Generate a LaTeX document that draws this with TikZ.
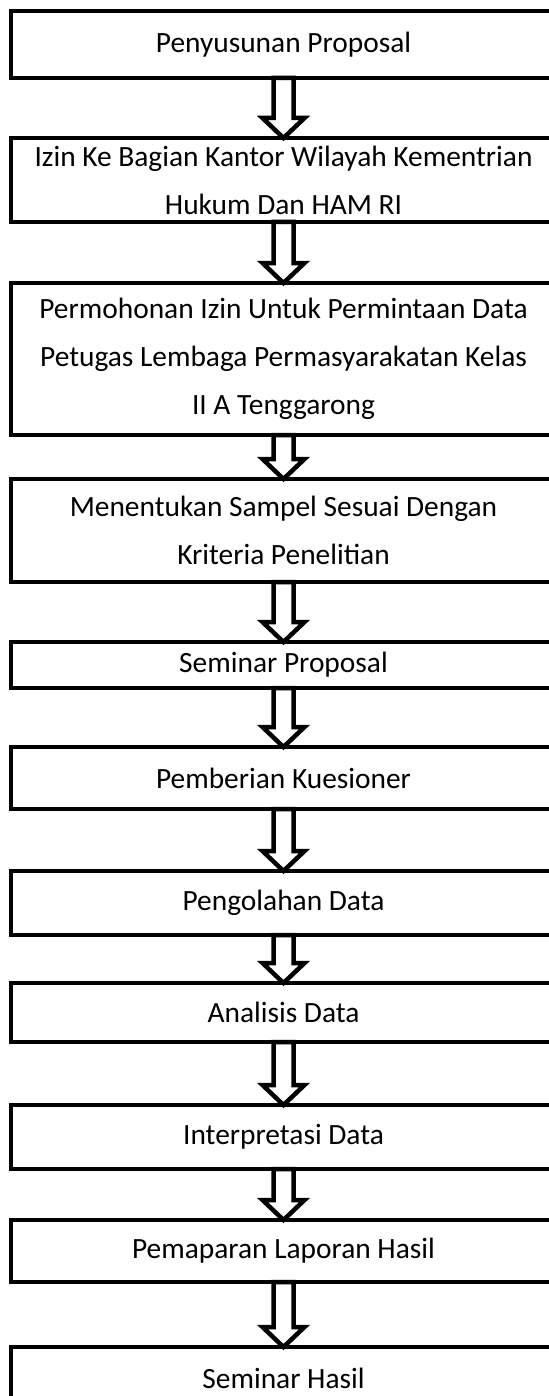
\documentclass[tikz,border=0pt]{standalone}
\usepackage{fontspec}
\setmainfont{Carlito}
\usepackage{tikz}
\usetikzlibrary{
    arrows.meta, positioning, calc
}
\tikzset{
  langkah/.style={rectangle, draw, line width=2.25pt, outer sep=0pt,
                  minimum width=272.5pt, align=center,
                  font=\fontsize{14.7}{24}\selectfont},
  panah/.style={draw, fill=white, line width=2.25pt, line join=miter},
}

\begin{document}
\begin{tikzpicture}[x=0.5pt, y=0.5pt, node distance=0pt]
  \useasboundingbox (0,0) rectangle (548,-1396);
  \node[langkah, minimum height=33.5pt] at (283.5,-44.5) (b1)
    {Penyusunan Proposal};
  \node[langkah, minimum height=42pt, below=30pt of b1] (b2)
    {Izin Ke Bagian Kantor Wilayah Kementrian\\Hukum Dan HAM RI};
  \node[langkah, minimum height=76pt, below=30.5pt of b2] (b3)
    {Permohonan Izin Untuk Permintaan Data\\Petugas Lembaga Permasyarakatan Kelas\\II A Tenggarong};
  \node[langkah, minimum height=51.5pt, below=22pt of b3] (b4)
    {Menentukan Sampel Sesuai Dengan\\Kriteria Penelitian};
  \node[langkah, minimum height=23pt, below=30pt of b4] (b5)
    {Seminar Proposal};
  \node[langkah, minimum height=31pt, below=29.5pt of b5] (b6)
    {Pemberian Kuesioner};
  \node[langkah, minimum height=32pt, below=31pt of b6] (b7)
    {Pengolahan Data};
  \node[langkah, minimum height=29.5pt, below=24pt of b7] (b8)
    {Analisis Data};
  \node[langkah, minimum height=32pt, below=31.5pt of b8] (b9)
    {Interpretasi Data};
  \node[langkah, minimum height=31pt, below=25.5pt of b9] (b10)
    {Pemaparan Laporan Hasil};
  \node[langkah, minimum height=31pt, below=32.5pt of b10] (b11)
    {Seminar Hasil};

  % panah blok antar langkah
  \foreach \a/\b in {b1/b2, b2/b3, b3/b4, b4/b5, b5/b6, b6/b7,
                     b7/b8, b8/b9, b9/b10, b10/b11}
    \draw[panah] ($(\a.south)+(-10,0)$) -- ($(\b.north)+(-10,20)$)
      -- ($(\b.north)+(-21,20)$) -- (\b.north) -- ($(\b.north)+(21,20)$)
      -- ($(\b.north)+(10,20)$) -- ($(\a.south)+(10,0)$) -- cycle;
\end{tikzpicture}
\end{document}
